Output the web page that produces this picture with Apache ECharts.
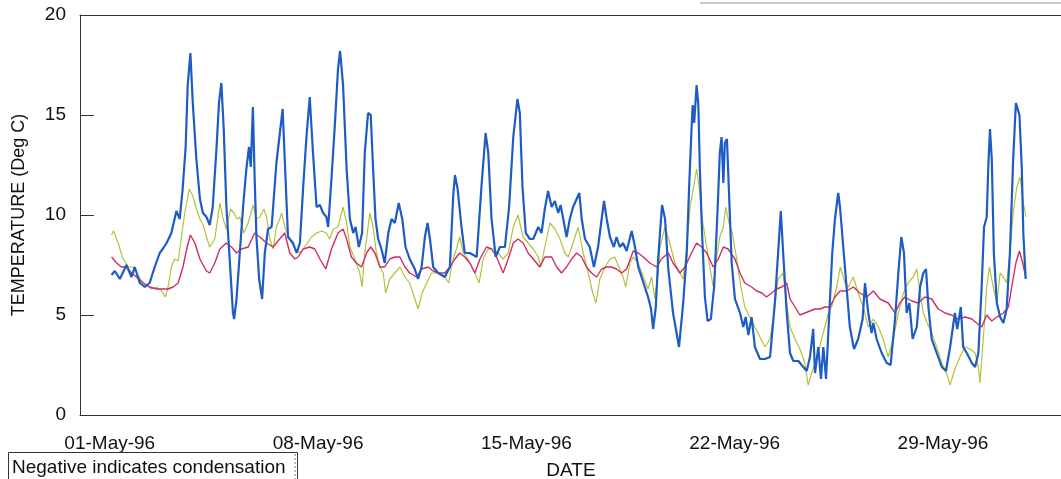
<!DOCTYPE html>
<html>
<head>
<meta charset="utf-8">
<script src="https://cdn.jsdelivr.net/npm/echarts@6/dist/echarts.min.js"></script>
<style>
html,body{margin:0;padding:0;background:#fff;}
#chart{width:1061px;height:479px;}
</style>
</head>
<body>
<div id="chart"></div>
<script>
// x values: day of May 1996 (1.0 = 01-May-96 00:00)
const tickDays = [1, 8, 15, 22, 29];
const tickLabels = ['01-May-96', '08-May-96', '15-May-96', '22-May-96', '29-May-96'];
const yTicks = [0, 5, 10, 15, 20];

const blue = [
[1.06,7.0],[1.17,7.2],[1.34,6.8],[1.56,7.5],[1.73,6.9],[1.84,7.4],[2.01,6.6],[2.18,6.4],[2.34,6.6],
[2.51,7.4],[2.68,8.1],[2.78,8.3],[2.91,8.6],[3.07,9.1],[3.24,10.2],[3.35,9.8],[3.45,11.3],[3.55,13.4],
[3.62,16.5],[3.71,18.1],[3.79,15.6],[3.91,12.8],[4.03,10.8],[4.13,10.1],[4.25,9.9],[4.36,9.5],[4.46,10.4],
[4.59,13.4],[4.67,15.6],[4.75,16.6],[4.83,14.3],[4.92,10.4],[5.03,7.8],[5.14,5.1],[5.18,4.8],[5.26,5.8],
[5.37,8.1],[5.48,10.4],[5.59,12.3],[5.68,13.4],[5.74,12.4],[5.81,15.4],[5.87,11.8],[5.93,8.9],[6.02,6.8],
[6.12,5.8],[6.21,8.1],[6.32,9.3],[6.44,9.4],[6.60,12.6],[6.81,15.3],[6.88,12.8],[6.99,8.9],[7.16,8.6],
[7.28,8.1],[7.39,8.6],[7.50,11.4],[7.61,13.9],[7.72,15.9],[7.83,13.1],[7.95,10.4],[8.06,10.5],[8.17,10.1],
[8.28,9.9],[8.34,9.4],[8.45,11.8],[8.56,14.4],[8.67,17.3],[8.74,18.2],[8.84,16.5],[8.96,12.3],[9.07,9.8],
[9.18,9.1],[9.26,9.4],[9.37,8.4],[9.48,9.1],[9.57,13.1],[9.68,15.1],[9.77,15.0],[9.85,12.3],[9.93,9.8],
[10.02,8.8],[10.13,8.3],[10.24,7.6],[10.36,9.1],[10.47,9.8],[10.58,9.6],[10.71,10.6],[10.83,9.8],[10.94,8.4],
[11.08,7.8],[11.25,7.3],[11.36,6.8],[11.48,7.4],[11.59,8.9],[11.68,9.6],[11.76,8.8],[11.87,7.4],[12.04,7.1],
[12.26,6.9],[12.43,7.4],[12.54,10.9],[12.60,12.0],[12.69,11.3],[12.73,11.4],[12.82,9.4],[12.93,8.1],[13.10,8.1],
[13.33,7.9],[13.49,11.4],[13.63,14.1],[13.72,13.1],[13.83,9.8],[13.97,7.9],[14.11,8.4],[14.28,8.4],[14.42,10.4],
[14.56,13.9],[14.70,15.8],[14.78,15.1],[14.87,11.4],[14.98,9.1],[15.12,8.8],[15.23,8.8],[15.40,9.4],[15.51,9.1],
[15.62,10.3],[15.73,11.2],[15.85,10.4],[15.96,10.7],[16.07,10.1],[16.15,10.5],[16.24,9.8],[16.35,8.9],[16.46,9.8],
[16.57,10.4],[16.69,10.8],[16.78,11.1],[16.86,9.8],[16.97,8.8],[17.13,8.4],[17.27,7.4],[17.41,8.4],[17.53,9.8],
[17.61,10.7],[17.70,9.8],[17.81,8.9],[17.94,8.4],[18.03,8.9],[18.14,8.4],[18.25,8.6],[18.37,8.2],[18.54,9.2],
[18.65,8.4],[18.76,7.4],[18.87,6.9],[18.98,6.4],[19.09,5.9],[19.19,5.3],[19.26,4.3],[19.35,5.4],[19.43,7.8],
[19.49,9.1],[19.56,10.5],[19.66,9.8],[19.77,7.3],[19.93,5.1],[20.13,3.4],[20.27,5.6],[20.39,8.1],[20.47,11.4],
[20.55,14.3],[20.59,15.5],[20.64,14.6],[20.72,16.5],[20.78,15.5],[20.83,12.3],[20.91,8.9],[21.00,5.9],[21.09,4.7],
[21.20,4.8],[21.31,6.4],[21.43,10.4],[21.50,13.1],[21.56,13.9],[21.62,11.6],[21.67,13.6],[21.74,13.8],[21.81,11.1],
[21.90,7.6],[22.01,5.8],[22.18,5.1],[22.29,4.4],[22.37,4.9],[22.46,4.0],[22.57,4.9],[22.68,3.4],[22.85,2.8],
[23.02,2.8],[23.19,2.9],[23.35,5.6],[23.46,8.1],[23.55,10.2],[23.63,8.1],[23.75,5.1],[23.86,3.1],[23.97,2.7],
[24.14,2.7],[24.25,2.5],[24.42,2.2],[24.53,2.9],[24.64,4.3],[24.70,2.1],[24.81,3.4],[24.90,1.8],[24.98,3.4],
[25.07,1.8],[25.17,4.8],[25.28,8.1],[25.37,9.8],[25.48,11.1],[25.54,10.4],[25.65,8.4],[25.76,6.4],[25.87,4.4],
[26.01,3.3],[26.15,3.8],[26.30,4.8],[26.38,6.6],[26.49,5.1],[26.60,4.1],[26.66,4.6],[26.77,3.8],[26.94,3.1],
[27.11,2.6],[27.24,2.5],[27.39,4.8],[27.50,7.1],[27.60,8.9],[27.69,8.1],[27.78,5.1],[27.87,5.6],[27.98,3.8],
[28.12,4.4],[28.23,6.4],[28.34,7.1],[28.43,7.3],[28.51,5.4],[28.62,3.8],[28.79,3.1],[28.96,2.4],[29.10,2.2],
[29.24,3.4],[29.40,5.1],[29.48,4.3],[29.60,5.4],[29.68,3.4],[29.80,3.1],[29.97,2.6],[30.08,2.4],[30.19,3.1],
[30.30,6.4],[30.38,9.4],[30.47,9.9],[30.52,12.3],[30.58,14.3],[30.64,12.8],[30.71,8.1],[30.81,5.6],[30.92,4.9],
[31.03,4.6],[31.14,5.3],[31.25,8.1],[31.36,12.8],[31.45,15.6],[31.50,15.7],[31.57,15.0],[31.65,12.3],[31.70,9.1],
[31.78,6.8]
];

const magenta = [
[1.06,7.9],[1.23,7.6],[1.39,7.4],[1.56,7.4],[1.73,7.1],[1.90,6.9],[2.12,6.6],[2.34,6.4],[2.57,6.3],
[2.79,6.3],[2.96,6.3],[3.13,6.4],[3.30,6.6],[3.46,7.4],[3.60,8.4],[3.71,9.0],[3.86,8.6],[4.03,7.8],
[4.25,7.2],[4.36,7.1],[4.53,7.6],[4.70,8.3],[4.92,8.6],[5.09,8.4],[5.26,8.1],[5.43,8.3],[5.65,8.4],
[5.87,9.1],[6.04,8.9],[6.27,8.6],[6.49,8.4],[6.71,8.8],[6.88,9.1],[7.05,8.1],[7.22,7.8],[7.33,7.9],
[7.50,8.3],[7.72,8.4],[7.89,8.3],[8.06,7.8],[8.26,7.3],[8.45,8.3],[8.67,9.1],[8.84,9.3],[8.96,8.8],
[9.12,7.9],[9.29,7.6],[9.46,7.4],[9.63,8.1],[9.77,8.4],[9.91,8.1],[10.08,7.4],[10.24,7.4],[10.41,7.8],
[10.58,7.9],[10.75,7.9],[10.92,7.4],[11.08,7.1],[11.31,6.9],[11.48,7.3],[11.70,7.4],[11.87,7.2],[12.04,7.1],
[12.26,7.1],[12.43,7.4],[12.60,7.8],[12.76,8.1],[12.93,7.9],[13.10,7.6],[13.27,7.1],[13.44,7.8],[13.66,8.4],
[13.83,8.3],[14.00,7.9],[14.22,7.1],[14.39,7.8],[14.56,8.6],[14.72,8.8],[14.89,8.6],[15.06,8.1],[15.23,7.8],
[15.45,7.4],[15.62,7.9],[15.85,7.9],[16.02,7.4],[16.18,7.1],[16.35,7.4],[16.52,7.8],[16.69,8.1],[16.86,7.9],
[17.02,7.4],[17.19,7.1],[17.36,6.9],[17.53,7.3],[17.70,7.4],[17.86,7.4],[18.03,7.3],[18.20,7.1],[18.37,7.3],
[18.59,8.2],[18.76,8.1],[18.93,7.9],[19.15,7.6],[19.38,7.4],[19.54,7.8],[19.77,8.1],[19.93,7.6],[20.16,7.1],
[20.33,7.4],[20.55,8.1],[20.72,8.6],[20.89,8.4],[21.06,8.1],[21.28,7.4],[21.45,7.8],[21.62,8.4],[21.78,8.3],
[22.01,7.8],[22.18,7.1],[22.34,6.6],[22.57,6.4],[22.74,6.2],[22.91,6.1],[23.07,5.9],[23.24,6.1],[23.41,6.3],
[23.58,6.4],[23.75,6.6],[23.86,5.8],[24.03,5.4],[24.19,5.0],[24.36,5.1],[24.53,5.2],[24.70,5.3],[24.87,5.3],
[25.03,5.4],[25.20,5.4],[25.37,5.9],[25.54,6.2],[25.76,6.2],[25.99,6.4],[26.21,6.1],[26.44,5.9],[26.66,6.2],
[26.88,5.8],[27.16,5.6],[27.39,5.1],[27.55,5.6],[27.72,5.9],[27.95,5.7],[28.17,5.6],[28.39,5.9],[28.62,5.8],
[28.84,5.3],[29.07,5.1],[29.29,5.0],[29.51,4.8],[29.74,4.9],[29.97,4.8],[30.13,4.6],[30.30,4.4],[30.47,5.0],
[30.64,4.7],[30.81,4.9],[31.03,5.1],[31.20,5.4],[31.31,6.4],[31.45,7.6],[31.57,8.2],[31.68,7.6],[31.78,6.9]
];

const yellow = [
[1.06,9.0],[1.13,9.2],[1.28,8.6],[1.45,7.8],[1.62,7.4],[1.78,7.4],[1.90,7.1],[2.07,6.7],[2.23,6.5],
[2.40,6.3],[2.57,6.4],[2.74,6.2],[2.87,5.9],[2.96,6.4],[3.07,7.4],[3.18,7.8],[3.30,7.7],[3.41,8.9],
[3.52,10.1],[3.67,11.3],[3.78,11.0],[3.91,10.3],[4.03,9.8],[4.14,9.5],[4.25,8.9],[4.36,8.4],[4.53,8.8],
[4.70,10.6],[4.81,9.8],[4.92,9.3],[5.06,10.3],[5.17,10.1],[5.28,9.8],[5.37,9.9],[5.50,9.1],[5.65,9.6],
[5.82,10.5],[5.93,9.8],[6.04,9.9],[6.18,10.3],[6.27,9.9],[6.38,8.8],[6.49,8.3],[6.60,9.4],[6.71,9.8],
[6.78,10.1],[6.88,9.4],[7.05,8.8],[7.22,8.3],[7.39,8.1],[7.55,8.4],[7.78,8.9],[7.95,9.1],[8.12,9.2],
[8.28,9.1],[8.39,8.8],[8.51,9.3],[8.67,9.4],[8.84,10.4],[8.96,9.6],[9.07,8.4],[9.24,7.8],[9.40,7.1],
[9.48,6.4],[9.57,8.1],[9.74,10.1],[9.85,9.4],[9.96,8.1],[10.08,7.4],[10.19,7.1],[10.27,6.1],[10.41,6.8],
[10.58,7.1],[10.75,7.4],[10.92,6.9],[11.08,6.6],[11.23,5.9],[11.36,5.3],[11.50,6.1],[11.65,6.6],[11.81,7.1],
[12.04,7.1],[12.26,6.9],[12.39,6.6],[12.54,7.8],[12.65,8.3],[12.76,8.9],[12.88,8.1],[13.04,7.8],[13.27,7.1],
[13.41,6.6],[13.55,7.8],[13.72,8.3],[13.88,8.3],[14.05,8.1],[14.22,7.8],[14.39,8.1],[14.56,9.4],[14.72,10.0],
[14.89,8.9],[15.06,8.6],[15.23,8.3],[15.40,7.9],[15.48,7.4],[15.62,8.4],[15.79,9.6],[15.96,9.3],[16.13,8.8],
[16.29,8.1],[16.41,7.9],[16.57,8.6],[16.74,9.4],[16.91,8.1],[17.08,7.1],[17.23,6.1],[17.34,5.6],[17.47,6.8],
[17.64,7.4],[17.81,7.8],[17.97,7.9],[18.14,7.3],[18.25,6.9],[18.34,6.4],[18.48,7.6],[18.59,7.9],[18.76,7.6],
[18.93,6.9],[19.09,6.3],[19.21,6.9],[19.32,5.8],[19.43,7.1],[19.49,8.4],[19.66,9.4],[19.82,8.6],[19.99,7.6],
[20.16,7.1],[20.27,6.8],[20.39,8.4],[20.50,10.4],[20.61,11.3],[20.72,12.3],[20.83,11.1],[20.91,9.8],[21.06,8.4],
[21.20,7.1],[21.28,6.4],[21.39,7.8],[21.50,8.9],[21.62,9.4],[21.70,10.4],[21.81,9.6],[21.92,9.1],[22.07,7.8],
[22.21,6.4],[22.34,5.4],[22.51,4.9],[22.68,4.4],[22.85,3.9],[23.02,3.4],[23.19,3.8],[23.35,5.4],[23.46,6.8],
[23.63,7.1],[23.75,5.6],[23.86,4.4],[24.03,3.8],[24.19,3.3],[24.36,2.6],[24.47,1.5],[24.59,2.1],[24.70,2.6],
[24.81,3.1],[24.92,3.8],[25.03,4.4],[25.15,5.1],[25.26,5.4],[25.43,6.4],[25.55,7.4],[25.71,6.6],[25.82,6.4],
[25.99,6.9],[26.15,6.1],[26.32,5.4],[26.49,4.4],[26.66,4.8],[26.83,4.4],[26.99,3.8],[27.16,2.9],[27.33,3.8],
[27.50,5.1],[27.67,6.1],[27.83,6.6],[28.00,6.9],[28.12,7.3],[28.23,6.1],[28.34,5.1],[28.47,4.6],[28.62,4.1],
[28.79,3.4],[28.96,2.6],[29.12,2.1],[29.24,1.5],[29.40,2.3],[29.57,2.9],[29.74,3.4],[29.91,3.3],[30.08,3.1],
[30.19,2.4],[30.24,1.6],[30.36,3.9],[30.47,6.4],[30.56,7.4],[30.69,6.4],[30.81,5.6],[30.92,7.1],[31.03,6.9],
[31.14,6.6],[31.25,8.1],[31.36,10.1],[31.48,11.4],[31.59,11.9],[31.70,10.6],[31.79,9.9]
];

const FONT = "'Liberation Sans', Arial, sans-serif";
const chart = echarts.init(document.getElementById('chart'), null, {renderer: 'canvas'});

const option = {
  backgroundColor: '#ffffff',
  animation: false,
  grid: {
    left: 80, top: 15, width: 982, height: 400, show: false,
    containLabel: false, outerBoundsMode: 'none'
  },
  xAxis: [
    {
      type: 'value',
      min: 0, max: 33,
      name: 'DATE',
      nameLocation: 'middle',
      nameGap: 46,
      nameTextStyle: {fontFamily: FONT, fontSize: 19, color: '#111'},
      axisLine: {show: true, onZero: false, lineStyle: {color: '#333', width: 1}},
      axisTick: {show: false},
      splitLine: {show: false},
      axisLabel: {
        customValues: tickDays,
        fontFamily: FONT, fontSize: 19, color: '#111', margin: 19,
        formatter: function (v) {
          const i = tickDays.indexOf(Math.round(v));
          return i >= 0 ? tickLabels[i] : '';
        }
      }
    },
    {
      type: 'value', position: 'top', min: 0, max: 33,
      axisLine: {show: true, onZero: false, lineStyle: {color: '#333', width: 1}},
      axisTick: {show: false}, axisLabel: {show: false}, splitLine: {show: false}
    }
  ],
  yAxis: {
    type: 'value',
    min: yTicks[0], max: yTicks[yTicks.length - 1], interval: 5,
    name: 'TEMPERATURE (Deg C)',
    nameLocation: 'middle',
    nameGap: 52,
    nameRotate: 90,
    nameTextStyle: {fontFamily: FONT, fontSize: 18, color: '#111'},
    axisLine: {show: true, onZero: false, lineStyle: {color: '#333', width: 1}},
    axisTick: {show: true, inside: true, length: 14, lineStyle: {color: '#333', width: 1}},
    splitLine: {show: false},
    axisLabel: {fontFamily: FONT, fontSize: 19, color: '#111', margin: 14, padding: [12, 0, 0, 0]}
  },
  series: [
    {
      name: 'yellow', type: 'line', data: yellow, showSymbol: false, symbol: 'none',
      lineStyle: {color: '#b3c23a', width: 1.2}, z: 2
    },
    {
      name: 'magenta', type: 'line', data: magenta, showSymbol: false, symbol: 'none',
      lineStyle: {color: '#d22b68', width: 1.4}, z: 3
    },
    {
      name: 'blue', type: 'line', data: blue, showSymbol: false, symbol: 'none',
      lineStyle: {color: '#1d5cc4', width: 2.2}, z: 4
    }
  ],
  graphic: [
    {
      type: 'rect', left: 8, top: 452,
      shape: {width: 289, height: 40},
      style: {fill: '#fff', stroke: '#333', lineWidth: 1}, z: 10
    },
    {
      type: 'line',
      shape: {x1: 295, y1: 454, x2: 295, y2: 479},
      style: {stroke: '#777', lineWidth: 1, lineDash: [2, 2]}, z: 11
    },
    {
      type: 'text', left: 12, top: 458,
      style: {text: 'Negative indicates condensation', font: '19px ' + FONT, fill: '#111'}, z: 11
    },
    {
      type: 'line',
      shape: {x1: 700, y1: 3, x2: 1061, y2: 3},
      style: {stroke: '#c8c8c8', lineWidth: 2}, z: 1
    }
  ]
};
chart.setOption(option);
</script>
</body>
</html>
